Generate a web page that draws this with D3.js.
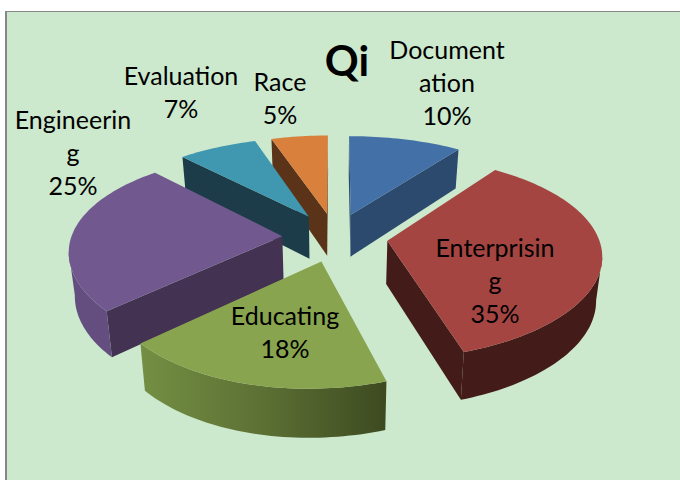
<!DOCTYPE html>
<html>
<head>
<meta charset="utf-8">
<script src="https://cdn.jsdelivr.net/npm/d3@7"></script>
<style>html,body{margin:0;padding:0;background:#fff}svg{display:block}text{font-family:Lato,"Open Sans",sans-serif;fill:#000}</style>
</head>
<body>
<svg id="chart" width="680" height="480"></svg>
<script>
const titleText = "Qi";
const categories = ["Documentation","Enterprising","Educating","Engineering","Evaluation","Race"];
const values = [10,35,18,25,7,5];
const labelLines = [["Document","ation"],["Enterprisin","g"],["Educating"],["Engineerin","g"],["Evaluation"],["Race"]];
const labelCentres = [[447,59],[495,257],[285,325],[73,129],[181,85],[280,91]];
const topColors = ["#4370a6","#a54542","#89a44e","#71588f","#4097b0","#d9813c"];
const radialColors = ["#2c4a6e","#431b19","#56682f","#433252","#1b3c48","#5a3318"];
const outerColors = ["#2c4a6e","#431b19","#6f8a40","#644e80","#1b3c48","#5a3318"];
const paintOrder = [5,4,0,3,1,2];

const cx=335, cy=237, rx=211, ry=97.7, kx=0.13, ky=0.161, nearShift=6, explode=0.25, depth=43, k2=0.1, bottomScale=0.977;
const svg=d3.select("#chart");
svg.append("rect").attr("x",6).attr("y",11.5).attr("width",690).attr("height",490)
  .attr("fill","#cce8cd").attr("stroke","#878787").attr("stroke-width",1);
svg.append("rect").attr("x",5).attr("y",11).attr("width",2).attr("height",470).attr("fill","#878787");

function project(X,Y){
  const near=Math.max(0,Y);
  return [cx+rx*X/(1-kx*Y)-nearShift*near*near*near, cy+ry*Y/(1-ky*Y)];
}
function lower(p,Y){
  return [cx+(p[0]-cx)*bottomScale, p[1]+depth/(1-k2*Y)];
}
const pie=d3.pie().sort(null).value(d=>d);
const arcs=pie(values);
const line=d3.line();
const defs=svg.append("defs");

function sliceGeom(a){
  const mid=(a.startAngle+a.endAngle)/2;
  const X0=explode*Math.sin(mid), Y0=-explode*Math.cos(mid);
  const n=Math.max(8,Math.ceil((a.endAngle-a.startAngle)*40));
  const worldArc=d3.range(n+1).map(i=>{
    const t=a.startAngle+(a.endAngle-a.startAngle)*i/n;
    return [X0+Math.sin(t),Y0-Math.cos(t)];
  });
  return {apex:[X0,Y0],worldArc};
}
paintOrder.forEach(i=>{
  const g=sliceGeom(arcs[i]);
  const world=[g.apex,...g.worldArc,g.apex];
  const pts=world.map(w=>project(w[0],w[1]));
  const low=pts.map((p,j)=>lower(p,world[j][1]));
  const group=svg.append("g").attr("class","slice").attr("data-category",categories[i]);
  // walls whose top edge runs leftward on screen face the viewer
  const last=pts.length-2;
  [0,last].forEach(j=>{
    if(pts[j+1][0]-pts[j][0]<0){
      group.append("path").attr("d",line([pts[j],pts[j+1],low[j+1],low[j]])+"Z").attr("fill",radialColors[i]);
    }
  });
  let fill=outerColors[i];
  if(i===2){
    const id="eduWall";
    const gr=defs.append("linearGradient").attr("id",id).attr("gradientUnits","userSpaceOnUse")
      .attr("x1",pts[pts.length-2][0]).attr("x2",pts[1][0]).attr("y1",0).attr("y2",0);
    gr.append("stop").attr("offset",0).attr("stop-color","#748f43");
    gr.append("stop").attr("offset",0.5).attr("stop-color","#5c7034");
    gr.append("stop").attr("offset",1).attr("stop-color","#3d4a20");
    fill=`url(#${id})`;
  }
  const front=d3.range(1,last).filter(j=>pts[j+1][0]-pts[j][0]<0);
  if(front.length){
    const up=[...front.map(j=>pts[j]),pts[front[front.length-1]+1]];
    const dn=[...front.map(j=>low[j]),low[front[front.length-1]+1]].reverse();
    group.append("path").attr("d",line([...up,...dn])+"Z").attr("fill",fill);
  }
  group.append("path").attr("d",line(pts.slice(0,-1))+"Z").attr("fill",topColors[i]);
});

const fs=25, lh=33;
categories.forEach((c,i)=>{
  const lines=[...labelLines[i],d3.format(".0%")(values[i]/100)];
  const t=svg.append("text").attr("font-size",fs).attr("text-anchor","middle");
  lines.forEach((l,j)=>t.append("tspan").attr("x",labelCentres[i][0]).attr("y",labelCentres[i][1]+j*lh).text(l));
});
svg.append("text").attr("x",347).attr("y",76).attr("text-anchor","middle").attr("font-size",42).attr("font-weight",700).text(titleText);
</script>
</body>
</html>
